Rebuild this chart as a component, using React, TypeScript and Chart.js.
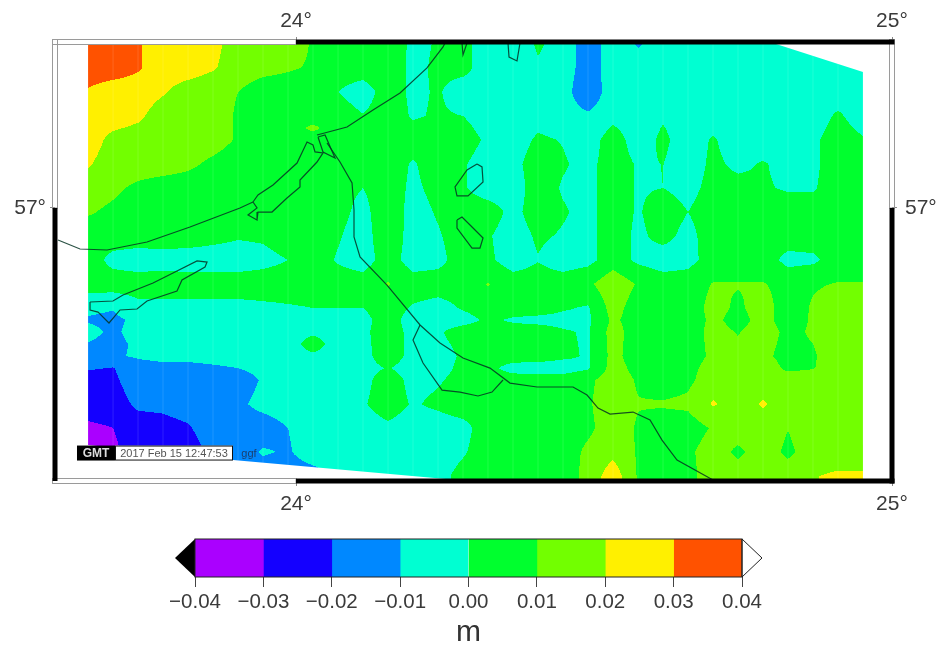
import React, { useEffect, useRef } from "react";
import Chart from "chart.js/auto";

// Map window (degrees)
const lonMin = 23.5956, lonMax = 25, latMin = 56.7505, latMax = 57.1517;
const lonTicks = [24, 25];
const latTicks = [57];

// Colour bands (metres)
const bandEdges = [-0.04, -0.03, -0.02, -0.01, 0, 0.01, 0.02, 0.03, 0.04];
const bandColors = ["#aa00ff", "#1400ff", "#0088ff", "#00ffd2", "#00ff2e", "#72ff00", "#fff000", "#ff5200"];

// Grid nodes
const lons = [23.651, 23.693, 23.7349, 23.7768, 23.8188, 23.8607, 23.9027, 23.9446, 23.9866, 24.0285, 24.0705, 24.1124, 24.1544, 24.1963, 24.2383, 24.2802, 24.3221, 24.3641, 24.406, 24.448, 24.4899, 24.5319, 24.5738, 24.6158, 24.6577, 24.6997, 24.7416, 24.7836, 24.8255, 24.8674, 24.9094, 24.9513];
const lats = [57.1499, 57.128, 57.106, 57.0841, 57.0731, 57.0622, 57.0402, 57.0183, 56.9963, 56.9744, 56.9525, 56.9305, 56.9086, 56.8976, 56.8867, 56.8757, 56.8647, 56.8537, 56.8428, 56.8208, 56.7989, 56.777, 56.755];

// Field values in millimetres, one list per latitude
const z00 = [35,35,31,25,25,23,15,15,15,9,5,5,9,-3,1,3,-5,-5,1,-3,-17,-3,-11,-5,-5,-5,-5,-5,-5,-5,-5,-5];
const z01 = [35,35,31,25,25,21,15,13,11,9,5,5,7,-3,2,3,-5,-5,-1,-3,-17,-3,-5,-5,-5,-5,-5,-5,-5,-5,-5,-5];
const z02 = [29,25,25,21,15,13,10,5,5,5,0,-5,5,-2,1,-5,-5,-5,-5,-5,-19,-3,-5,-5,-5,-5,-5,-5,-5,-5,-5,-5];
const z03 = [25,25,22,15,15,14,9,5,5,5,5,0.5,5,-1,1,0,-5,-5,-3,-5,-8,-3,-5,-1,-5,-5,-5,-5,-5,-5,1.5,-5];
const z03b = [25,21,18.5,15,15,14,9,5,6,12,5,3,5,2,3,2.5,-3.5,-5,-1,-3,-6.5,1,-5,0.5,-5,-2,-5,-5,-5,-3.5,3.3,-2];
const z04 = [25,17,15,15,15,14,9,5,5,5,5,5,5,5,5,5,-2,-5,1.5,-0.5,-5,5,-5,2,-5,1,-5,-5,-5,-2,5,1];
const z05 = [21,15,15,15,12,8,5,5,5,5,5,5,5,-1,5,1,-5,-3,5,1,-3,5,-1,0.1,-5,2,-2,0.8,-3,-2,5,5];
const z06 = [15,12,8,5,5,5,5,5,5,5,3,0,5,-2,3,1,-5,-5,5,-1,-3,5,-1,0,-3,3,3,1,-1,-1,5,5];
const z07 = [11,8,5,5,5,5,5,5,5,5,3,-3,7,-4,1,5,5,-3,5,1,-3,5,-1,5,0,5,5,5,5,5,5,5];
const z08 = [5,5,5,5,5,3,1,1.5,5,5,1,-5,8,-5,-1,5,1,-5,1.5,-1,-3,5,-2,3,-3,5,5,5,5,5,5,5];
const z09 = [5,-3,-5,-4,-5,-5,-5,-3,0,5,-1,-5,5,-5,-3,5,2,-5,-0.5,-5,-3,5,-2,-5,-3,4,5,5,-3,-2,5,5];
const z10 = [5,5,5,5,5,5,5,5,5,5,5,5,10.5,5,5,5,10.5,5,5,5,8,17,9,5,5,10.5,10.5,10.5,7,9,10.5,10.5];
const z11 = [-8,-9.5,-3,-3,-3,-3,-3,-2,-1,0,0,0,5,-1,-4,1,5,5,5,1,-1,14,5,5,5,13,8.5,14,5,11,15,15];
const z12 = [-11,-12,-8,-5,-5,-5,-5,-5,-5,-5,-5,-3,5,-5,-5,-4,2,-1.5,-3,-3,-2,12,5,5,5,12,7,13,6,11,15,15];
const z13 = [-7,-12,-6,-5,-5,-5,-5,-5,-5,-2,-5,-2,5,-3,-1.5,5,5,5,5,1,-1,14,5,5,5,13,9.5,14,8,11,15,15];
const z13b = [-10.5,-13,-8,-6.5,-6.5,-6,-6,-5.5,-5,5,-5,-2.5,5,-3,-2,2,5,5,5,1.5,-1,13.5,5,5,5,12.5,11,13,7.5,10,15,15];
const z14 = [-12,-11,-9,-8,-8,-7.5,-7,-6,-5,-2,-5,-3,5,-3,-3,1,5,5,5,2,-1,13,5,5,5,12,12,12,7,9,15,15];
const z15 = [-19,-20.5,-13,-12,-12,-11,-10,-7,-5,-3,-5,-3,0.5,-4,-3,2,3,-4,-5,-5,-1,14,7,5,7,14,15,15,8,9.5,15,15];
const z16 = [-25,-22,-14,-15,-15,-15,-15,-9,-5,-5,-5,-3,5,-3,-1,3,5,5,5,5,8,15,9,5,8,15,15,15,15,15,15,15];
const z17 = [-25,-25,-18,-18,-16,-15,-12,-7,-5,-5,-5,-1,5,-1,2,5,5,5,5,5,9,15,10.5,11,12,21,15,21,15,15,15,15];
const z18 = [-32,-30,-25,-23,-21,-15,-15,-15,-10,-5,-5,-5,-2,-5,-5,-3,5,5,5,5,8,15,9,5,5,11,15,15,10.3,15,15,15];
const z19 = [-33,-32,-25,-25,-24,-18,-15,-9,-11,-5,-5,-5,-5,-5,-5,-1,5,5,5,5,12,17,9,5,8,15,8,15,8,15,15,15];
const z20 = [-35,-35,-28,-25,-20,-16,-15,-15,-15,-14,-8,-5,-5,-5,-3,3,5,5,5,5,13,26,9,5,7,15,15,15,15,19.5,21.5,21.5];
const zRows = [z00,z01,z02,z03,z03b,z04,z05,z06,z07,z08,z09,z10,z11,z12,z13,z13b,z14,z15,z16,z17,z18,z19,z20];

// Limit of the gridded data
const coverLon = [23.651, 24.8054, 24.9513, 24.9513, 24.2701, 24.0453, 23.8943, 23.651];
const coverLat = [57.1499, 57.1499, 57.1243, 56.7514, 56.7514, 56.7623, 56.7697, 56.7834];

// Coast and lake outlines
const westLon = [23.6007,23.6376,23.6829,23.75,23.8221,23.906,23.9278];
const westLat = [56.9708,56.9625,56.9616,56.9689,56.9826,57,57.0055];
const lakeLon = [23.9278,23.9362,23.9614,24.0017,24.0185,24.0285,24.0319,24.0453,24.0352,24.0067,24.0067,23.9849,23.9597,23.9362,23.9346,23.9195,23.9346,23.9278];
const lakeLat = [57.0055,57.0119,57.021,57.0411,57.0603,57.0576,57.0512,57.0503,57.042,57.0256,57.0192,57.0091,56.9963,56.9963,56.989,56.9936,57,57.0055];
const northLon = [24.0352,24.0856,24.1292,24.1745,24.2198,24.2467,24.25];
const northLat = [57.0667,57.074,57.0896,57.1051,57.128,57.1472,57.1508];
const wedgeLon = [24.0369,24.0487,24.0654,24.0453,24.0369];
const wedgeLat = [57.0649,57.0667,57.0457,57.0512,57.0649];
const mainLon = [24.052,24.0738,24.094,24.0973,24.0973,24.1074,24.1527,24.2081,24.2416,24.2802,24.3255,24.3591,24.4044,24.4648,24.4883,24.5067,24.5269,24.5655,24.594,24.6141,24.6393,24.6997];
const mainLat = [57.0594,57.042,57.0229,56.9982,56.9735,56.9552,56.9296,56.8931,56.8766,56.8629,56.8537,56.84,56.8364,56.8364,56.8291,56.8172,56.8117,56.8135,56.8062,56.7879,56.7697,56.7514];
const branchLon = [24.2081,24.1963,24.2131,24.245,24.2752,24.3054,24.3289,24.3473];
const branchLat = [56.8931,56.8793,56.8583,56.8336,56.8318,56.8282,56.8318,56.8428];
const southLon = [23.6544,23.6544,23.6678,23.6862,23.7047,23.7332,23.75,23.8003,23.8087,23.8473,23.8507,23.8339,23.7936,23.7601,23.7097,23.6929,23.6544];
const southLat = [56.9141,56.9068,56.9049,56.8949,56.9068,56.9077,56.915,56.9241,56.9342,56.9461,56.9506,56.9516,56.9406,56.9314,56.9205,56.915,56.9141];
const pondALon = [24.3037,24.2869,24.2668,24.2701,24.2886,24.3138,24.3121,24.3037];
const pondALat = [57.0402,57.0347,57.0192,57.011,57.011,57.0238,57.0375,57.0402];
const pondBLon = [24.2701,24.2785,24.292,24.3138,24.3087,24.2953,24.2701,24.2701];
const pondBLat = [56.989,56.9918,56.9845,56.9726,56.9634,56.9634,56.9817,56.989];
const pondCLon = [24.3557,24.3574,24.3708,24.3758];
const pondCLat = [57.1508,57.138,57.1344,57.1508];
const pondDLon = [24.2785,24.2802,24.2869];
const pondDLat = [57.1508,57.1399,57.1508];

const outlines = [
  [westLon, westLat], [lakeLon, lakeLat], [northLon, northLat], [wedgeLon, wedgeLat],
  [mainLon, mainLat], [branchLon, branchLat], [southLon, southLat],
  [pondALon, pondALat], [pondBLon, pondBLat], [pondCLon, pondCLat], [pondDLon, pondDLat],
];

const stampLogo = "GMT";
const stampText = "2017 Feb 15 12:47:53";
const stampTail = "ggf";
const unitLabel = "m";

const FONT = '"Liberation Sans", Arial, sans-serif';
const TEXT = "#3a3a3a";

function hexRgb(h: string) {
  return [parseInt(h.slice(1, 3), 16), parseInt(h.slice(3, 5), 16), parseInt(h.slice(5, 7), 16)];
}
const bandRgb = bandColors.map(hexRgb);

function sample(lon: number, lat: number) {
  let i = 0;
  while (i < lons.length - 2 && lon > lons[i + 1]) i++;
  let j = 0;
  while (j < lats.length - 2 && lat < lats[j + 1]) j++;
  const u = Math.min(1, Math.max(0, (lon - lons[i]) / (lons[i + 1] - lons[i])));
  const v = Math.min(1, Math.max(0, (lat - lats[j]) / (lats[j + 1] - lats[j])));
  const a = zRows[j][i], b = zRows[j][i + 1], c = zRows[j + 1][i], d = zRows[j + 1][i + 1];
  return (a * (1 - u) + b * u) * (1 - v) + (c * (1 - u) + d * u) * v;
}

const fieldPlugin = {
  id: "field",
  beforeDatasetsDraw(chart: any) {
    const { ctx, chartArea: a, scales } = chart;
    const sx = scales.x, sy = scales.y;
    const r = chart.currentDevicePixelRatio || 1;
    const w = Math.round((a.right - a.left) * r), h = Math.round((a.bottom - a.top) * r);
    const off = document.createElement("canvas");
    off.width = w; off.height = h;
    const oc = off.getContext("2d")!;
    const img = oc.createImageData(w, h);
    const lonCol = new Float64Array(w), latRow = new Float64Array(h);
    for (let p = 0; p < w; p++) lonCol[p] = sx.getValueForPixel(a.left + (p + 0.5) / r);
    for (let q = 0; q < h; q++) latRow[q] = sy.getValueForPixel(a.top + (q + 0.5) / r);
    for (let q = 0; q < h; q++) {
      for (let p = 0; p < w; p++) {
        const z = sample(lonCol[p], latRow[q]) / 1000;
        let k = 0;
        while (k < bandColors.length - 1 && z >= bandEdges[k + 1]) k++;
        const c = bandRgb[k];
        const o = (q * w + p) * 4;
        img.data[o] = c[0]; img.data[o + 1] = c[1]; img.data[o + 2] = c[2]; img.data[o + 3] = 255;
      }
    }
    oc.putImageData(img, 0, 0);
    ctx.save();
    ctx.beginPath();
    coverLon.forEach((lon, i) => {
      const X = sx.getPixelForValue(lon), Y = sy.getPixelForValue(coverLat[i]);
      if (i) ctx.lineTo(X, Y); else ctx.moveTo(X, Y);
    });
    ctx.closePath();
    ctx.clip();
    ctx.filter = "blur(0.6px)";
    ctx.drawImage(off, a.left, a.top, a.right - a.left, a.bottom - a.top);
    ctx.filter = "none";
    ctx.strokeStyle = "rgba(255,255,255,0.12)";
    ctx.lineWidth = 1;
    ctx.beginPath();
    lons.forEach((lon) => {
      const X = sx.getPixelForValue(lon);
      ctx.moveTo(X, a.top); ctx.lineTo(X, a.bottom);
    });
    ctx.stroke();
    ctx.restore();
  },
};

const framePlugin = {
  id: "frame",
  afterDatasetsDraw(chart: any) {
    const { ctx, chartArea: a, scales } = chart;
    const x24 = scales.x.getPixelForValue(lonTicks[0]);
    const y57 = scales.y.getPixelForValue(latTicks[0]);
    ctx.save();
    // white frame intervals: grey double line
    ctx.strokeStyle = "#9a9a9a";
    ctx.lineWidth = 1;
    ctx.strokeRect(a.left - 2.5, a.top - 2.5, x24 - a.left + 2.5, 5);
    ctx.strokeRect(a.left - 2.5, a.bottom - 2.5, x24 - a.left + 2.5, 5);
    ctx.strokeRect(a.left - 2.5, a.top - 2.5, 5, y57 - a.top + 2.5);
    ctx.strokeRect(a.right - 2.5, a.top - 2.5, 5, y57 - a.top + 2.5);
    // black frame intervals
    ctx.fillStyle = "#000";
    ctx.fillRect(x24, a.top - 2.5, a.right - x24 + 2.5, 5);
    ctx.fillRect(x24, a.bottom - 2.5, a.right - x24 + 2.5, 5);
    ctx.fillRect(a.left - 2.5, y57, 5, a.bottom - y57);
    ctx.fillRect(a.right - 2.5, y57, 5, a.bottom - y57 + 2.5);
    // time stamp
    const sx = scales.x.getPixelForValue(23.6325), top = scales.y.getPixelForValue(56.7829);
    ctx.fillStyle = "#000";
    ctx.fillRect(sx, top, 38, 15);
    ctx.fillStyle = "#fff";
    ctx.strokeStyle = "#111";
    ctx.fillRect(sx + 38, top, 118, 15);
    ctx.strokeRect(sx + 38.5, top + 0.5, 117, 14);
    ctx.textBaseline = "middle";
    ctx.textAlign = "center";
    ctx.fillStyle = "#ddd";
    ctx.font = `bold 12px ${FONT}`;
    ctx.fillText(stampLogo, sx + 19, top + 8);
    ctx.fillStyle = "#555";
    ctx.font = `11px ${FONT}`;
    ctx.fillText(stampText, sx + 97, top + 8);
    ctx.fillStyle = "#1a3f70";
    ctx.font = `11px ${FONT}`;
    ctx.fillText(stampTail, sx + 172, top + 8);
    ctx.restore();
  },
};

const barEndsPlugin = {
  id: "barEnds",
  afterDatasetsDraw(chart: any) {
    const { ctx, chartArea: a } = chart;
    const mid = (a.top + a.bottom) / 2;
    ctx.save();
    ctx.lineWidth = 1;
    ctx.strokeStyle = "#222";
    ctx.fillStyle = "#000";
    ctx.beginPath();
    ctx.moveTo(a.left, a.top); ctx.lineTo(a.left - 20, mid); ctx.lineTo(a.left, a.bottom); ctx.closePath();
    ctx.fill();
    ctx.fillStyle = "#fff";
    ctx.beginPath();
    ctx.moveTo(a.right, a.top); ctx.lineTo(a.right + 20, mid); ctx.lineTo(a.right, a.bottom); ctx.closePath();
    ctx.fill(); ctx.stroke();
    ctx.strokeRect(a.left, a.top, a.right - a.left, a.bottom - a.top);
    ctx.restore();
  },
};

function mapScale(axis: string, position: string, min: number, max: number, ticks: number[], size: number, pad: number) {
  return {
    type: "linear", axis, position, min, max,
    afterBuildTicks: (s: any) => { s.ticks = ticks.map((value) => ({ value })); },
    afterFit: (s: any) => { if (axis === "x") s.height = size; else s.width = size; },
    border: { display: false },
    grid: { display: true, drawOnChartArea: false, drawTicks: true, tickLength: 5, color: "#888" },
    ticks: {
      autoSkip: false, maxRotation: 0, padding: pad, color: TEXT,
      font: { family: FONT, size: 21 },
      callback: (v: any) => `${v}°`,
    },
  };
}

export default function App() {
  const mapRef = useRef<HTMLCanvasElement>(null);
  const barRef = useRef<HTMLCanvasElement>(null);
  useEffect(() => {
    const mapChart = new Chart(mapRef.current!, {
      type: "scatter",
      data: {
        datasets: outlines.map(([xs, ys]) => ({
          data: xs.map((x, i) => ({ x, y: ys[i] })),
          showLine: true, pointRadius: 0, borderColor: "rgba(5,50,35,0.85)", borderWidth: 1.2, tension: 0,
          xAxisID: "x", yAxisID: "y",
        })),
      },
      options: {
        animation: false, responsive: false,
        layout: { padding: 0 },
        plugins: { legend: { display: false }, tooltip: { enabled: false } },
        scales: {
          x: mapScale("x", "bottom", lonMin, lonMax, lonTicks, 44, 6),
          x2: mapScale("x", "top", lonMin, lonMax, lonTicks, 42, 3),
          y: mapScale("y", "left", latMin, latMax, latTicks, 55, 4),
          y2: mapScale("y", "right", latMin, latMax, latTicks, 49, 8),
        } as any,
      },
      plugins: [fieldPlugin, framePlugin],
    } as any);
    const barChart = new Chart(barRef.current!, {
      type: "bar",
      data: {
        labels: [unitLabel],
        datasets: bandColors.map((c, i) => ({
          data: [[bandEdges[i], bandEdges[i + 1]]],
          backgroundColor: c, borderWidth: 0, grouped: false, barPercentage: 1, categoryPercentage: 1,
        })),
      },
      options: {
        indexAxis: "y", animation: false, responsive: false,
        layout: { padding: { left: 195, right: 199, top: 14, bottom: 0 } },
        plugins: { legend: { display: false }, tooltip: { enabled: false } },
        scales: {
          y: { display: false },
          x: {
            type: "linear", min: bandEdges[0], max: bandEdges[8],
            afterFit: (s: any) => { s.height = 74; },
            border: { display: false },
            grid: { drawOnChartArea: false, drawTicks: true, tickLength: 10, color: "#444" },
            ticks: {
              stepSize: 0.01, autoSkip: false, maxRotation: 0, padding: 3, color: TEXT,
              font: { family: FONT, size: 20.5 },
              callback: (v: any) => Number(v).toFixed(2).replace("-", "\u2212"),
            },
            title: { display: true, text: unitLabel, color: "#333", font: { family: FONT, size: 30 }, padding: { top: 4, bottom: 0 } },
          },
        },
      },
      plugins: [barEndsPlugin],
    } as any);
    return () => { mapChart.destroy(); barChart.destroy(); };
  }, []);
  return (
    <div style={{ position: "absolute", left: 0, top: 0, width: 941, height: 651, background: "#fff", overflow: "hidden" }}>
      <canvas ref={mapRef} width={941} height={525} style={{ position: "absolute", left: 0, top: 0 }} />
      <canvas ref={barRef} width={941} height={126} style={{ position: "absolute", left: 0, top: 525 }} />
    </div>
  );
}
